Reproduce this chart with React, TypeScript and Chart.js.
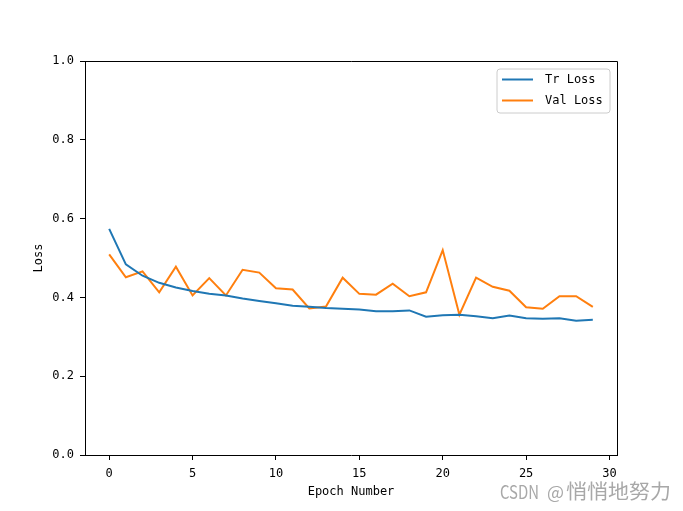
import React, { useEffect, useRef } from "react";
import { Chart, registerables } from "chart.js";

Chart.register(...registerables);

const epochs: number[] = Array.from({ length: 30 }, (_, i) => i);
const trLoss: number[] = [
  0.574, 0.484, 0.455, 0.437, 0.425, 0.416, 0.409, 0.405, 0.397, 0.391,
  0.385, 0.379, 0.376, 0.373, 0.371, 0.369, 0.365, 0.365, 0.367, 0.351,
  0.355, 0.356, 0.352, 0.347, 0.354, 0.347, 0.346, 0.347, 0.341, 0.343,
];
const valLoss: number[] = [
  0.509, 0.451, 0.466, 0.413, 0.478, 0.405, 0.449, 0.405, 0.470, 0.463,
  0.423, 0.420, 0.372, 0.377, 0.450, 0.409, 0.407, 0.435, 0.403, 0.413,
  0.520, 0.356, 0.450, 0.427, 0.417, 0.375, 0.371, 0.403, 0.403, 0.376,
];
const xTicks: number[] = [0, 5, 10, 15, 20, 25, 30];
const seriesNames: string[] = ["Tr Loss", "Val Loss"];
const seriesColors: string[] = ["#1f77b4", "#ff7f0e"];

const MONO = "'DejaVu Sans Mono', monospace";
const CJK = "'Noto Sans CJK SC', sans-serif";

const decorPlugin = {
  id: "decor",
  afterDraw(chart: any) {
    const { ctx, chartArea } = chart;
    const { left, right, top, bottom } = chartArea;
    ctx.save();
    // frame (top and right spines)
    ctx.strokeStyle = "#000";
    ctx.lineWidth = 1;
    ctx.beginPath();
    ctx.moveTo(left, top + 0.5);
    ctx.lineTo(right + 0.5, top + 0.5);
    ctx.lineTo(right + 0.5, bottom);
    ctx.stroke();

    // legend
    const lx = 497, ly = 69, lw = 113, lh = 44, r = 3;
    ctx.beginPath();
    ctx.moveTo(lx + r, ly);
    ctx.lineTo(lx + lw - r, ly);
    ctx.quadraticCurveTo(lx + lw, ly, lx + lw, ly + r);
    ctx.lineTo(lx + lw, ly + lh - r);
    ctx.quadraticCurveTo(lx + lw, ly + lh, lx + lw - r, ly + lh);
    ctx.lineTo(lx + r, ly + lh);
    ctx.quadraticCurveTo(lx, ly + lh, lx, ly + lh - r);
    ctx.lineTo(lx, ly + r);
    ctx.quadraticCurveTo(lx, ly, lx + r, ly);
    ctx.closePath();
    ctx.fillStyle = "rgba(255,255,255,0.8)";
    ctx.fill();
    ctx.strokeStyle = "#cccccc";
    ctx.stroke();
    ctx.font = `12px ${MONO}`;
    ctx.textBaseline = "middle";
    ctx.textAlign = "left";
    seriesNames.forEach((name, i) => {
      const y = 79.5 + i * 21;
      ctx.strokeStyle = seriesColors[i];
      ctx.lineWidth = 2;
      ctx.beginPath();
      ctx.moveTo(502, y);
      ctx.lineTo(533, y);
      ctx.stroke();
      ctx.fillStyle = "#000";
      ctx.fillText(name, 545, y + 0.5);
    });

    // axis titles
    ctx.fillStyle = "#000";
    ctx.font = `12px ${MONO}`;
    ctx.textAlign = "center";
    ctx.textBaseline = "middle";
    ctx.fillText("Epoch Number", (left + right) / 2, 492);
    ctx.save();
    ctx.translate(39, (top + bottom) / 2);
    ctx.rotate(-Math.PI / 2);
    ctx.fillText("Loss", 0, 0);
    ctx.restore();

    // watermark
    ctx.fillStyle = "#a8a8a8";
    ctx.textBaseline = "middle";
    ctx.textAlign = "left";
    ctx.font = `18px ${CJK}`;
    const w = ctx.measureText("CSDN").width;
    ctx.save();
    ctx.translate(500, 492);
    ctx.scale(39 / w, 1);
    ctx.fillText("CSDN", 0, 0);
    ctx.restore();
    const wa = ctx.measureText("@").width;
    ctx.save();
    ctx.translate(547, 492);
    ctx.scale(17 / wa, 1);
    ctx.fillText("@", 0, 0);
    ctx.restore();
    ctx.font = `20px ${CJK}`;
    const wc = ctx.measureText("悄悄地努力").width;
    ctx.save();
    ctx.translate(566, 491);
    ctx.scale(105 / wc, 1);
    ctx.fillText("悄悄地努力", 0, 0);
    ctx.restore();
    ctx.restore();
  },
};

export default function App() {
  const ref = useRef<HTMLCanvasElement | null>(null);
  useEffect(() => {
    if (!ref.current) return;
    const tickFont = { family: MONO, size: 12 };
    const chart = new Chart(ref.current, {
      type: "line",
      data: {
        datasets: [trLoss, valLoss].map((vals, i) => ({
          label: seriesNames[i],
          data: vals.map((v, j) => ({ x: epochs[j], y: v })),
          borderColor: seriesColors[i],
          backgroundColor: seriesColors[i],
          borderWidth: 2,
          pointRadius: 0,
          tension: 0,
          fill: false,
        })),
      },
      options: {
        animation: false,
        responsive: false,
        devicePixelRatio: 1,
        layout: { padding: { left: 0, top: 61, right: 66, bottom: 0 } },
        plugins: { legend: { display: false }, tooltip: { enabled: false } },
        scales: {
          x: {
            type: "linear",
            min: -1.45,
            max: 30.45,
            afterBuildTicks: (s: any) => {
              s.ticks = xTicks.map((v) => ({ value: v }));
            },
            afterFit: (s: any) => {
              s.height = 56;
            },
            grid: { drawOnChartArea: false, drawTicks: true, tickLength: 5, color: "#000" },
            border: { display: true, color: "#000", width: 1 },
            ticks: { font: tickFont, color: "#000", padding: 7, maxRotation: 0, autoSkip: false },
          },
          y: {
            min: 0,
            max: 1,
            afterFit: (s: any) => {
              s.width = 85;
            },
            grid: { drawOnChartArea: false, drawTicks: true, tickLength: 5, color: "#000" },
            border: { display: true, color: "#000", width: 1 },
            ticks: {
              stepSize: 0.2,
              font: tickFont,
              color: "#000",
              padding: 6,
              callback: (v: any) => Number(v).toFixed(1),
            },
          },
        },
      },
      plugins: [decorPlugin],
    } as any);
    return () => chart.destroy();
  }, []);
  return (
    <div style={{ position: "absolute", left: 0, top: 0, width: 683, height: 511, background: "#fff" }}>
      <canvas ref={ref} width={683} height={511} style={{ width: 683, height: 511, display: "block" }} />
    </div>
  );
}
